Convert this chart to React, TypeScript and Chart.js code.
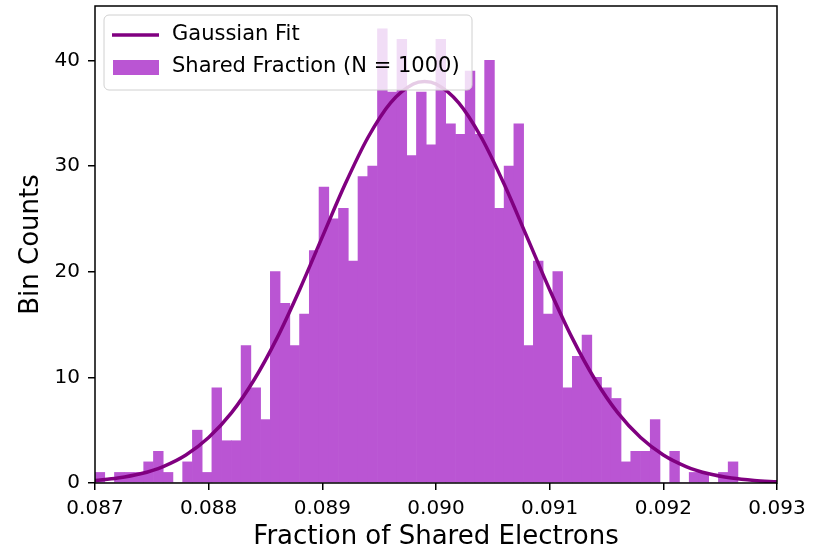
import React, { useEffect, useRef } from "react";
import { Chart, registerables } from "chart.js";

Chart.register(...registerables);

// Histogram binning of the shared-electron fraction (N = 1000 samples)
const BIN_START = 0.087;
const BIN_WIDTH = 0.0000857;
const BIN_COUNTS = [
  1, 0, 1, 1, 1, 2, 3, 1, 0, 2, 5, 1,
  9, 4, 4, 13, 9, 6, 20, 17, 13, 16, 22,
  28, 25, 26, 21, 29, 30, 43, 37, 42, 31, 37, 32,
  42, 34, 33, 39, 33, 40, 26, 30, 34, 13, 21, 16, 20,
  9, 12, 14, 10, 9, 8, 2, 3, 3, 6, 0, 3,
  0, 1, 1, 0, 1, 2,
];

// Gaussian fit curve, sampled along the x range
const FIT_X = [
  0.087, 0.0872, 0.0874, 0.0876, 0.0878, 0.088, 0.0882, 0.0884, 0.0886, 0.0888,
  0.089, 0.0892, 0.0894, 0.0896, 0.0898, 0.0899, 0.09, 0.0902, 0.0904, 0.0906,
  0.0908, 0.091, 0.0912, 0.0914, 0.0916, 0.0918, 0.092, 0.0922, 0.0924, 0.0926,
  0.0928, 0.093,
];
const FIT_Y = [
  0.24, 0.47, 0.87, 1.56, 2.65, 4.3, 6.63, 9.77, 13.69, 18.3,
  23.3, 28.27, 32.68, 35.99, 37.77, 38.0, 37.77, 35.99, 32.68, 28.27,
  23.3, 18.3, 13.69, 9.77, 6.63, 4.3, 2.65, 1.56, 0.87, 0.47,
  0.24, 0.11,
];

const X_TICKS = [0.087, 0.088, 0.089, 0.09, 0.091, 0.092, 0.093];
const Y_TICKS = [0, 10, 20, 30, 40];

const FIT_LABEL = "Gaussian Fit";
const HIST_LABEL = "Shared Fraction (N = 1000)";

const BAR_COLOR = "#BA55D3";
const LINE_COLOR = "#800080";
const FONT = "DejaVu Sans";

// Legend box drawn inside the plot, upper left
const insideLegend = {
  id: "insideLegend",
  afterDatasetsDraw(chart: any) {
    const { ctx, chartArea } = chart;
    const x = chartArea.left + 9;
    const y = chartArea.top + 9;
    const w = 368;
    const h = 75;
    const r = 5;
    ctx.save();
    ctx.beginPath();
    ctx.moveTo(x + r, y);
    ctx.lineTo(x + w - r, y);
    ctx.arcTo(x + w, y, x + w, y + r, r);
    ctx.lineTo(x + w, y + h - r);
    ctx.arcTo(x + w, y + h, x + w - r, y + h, r);
    ctx.lineTo(x + r, y + h);
    ctx.arcTo(x, y + h, x, y + h - r, r);
    ctx.lineTo(x, y + r);
    ctx.arcTo(x, y, x + r, y, r);
    ctx.closePath();
    ctx.fillStyle = "rgba(255,255,255,0.8)";
    ctx.fill();
    ctx.strokeStyle = "#d0d0d0";
    ctx.lineWidth = 1;
    ctx.stroke();

    // line handle
    ctx.beginPath();
    ctx.moveTo(x + 8, y + 20);
    ctx.lineTo(x + 55, y + 20);
    ctx.strokeStyle = LINE_COLOR;
    ctx.lineWidth = 3.5;
    ctx.stroke();

    // patch handle
    ctx.fillStyle = BAR_COLOR;
    ctx.fillRect(x + 9, y + 45, 46, 15);

    ctx.fillStyle = "#000";
    ctx.font = `21px "${FONT}"`;
    ctx.textBaseline = "middle";
    ctx.textAlign = "left";
    ctx.fillText(FIT_LABEL, x + 68, y + 20);
    ctx.fillText(HIST_LABEL, x + 68, y + 52);
    ctx.restore();
  },
};

// Full axes frame on all four sides
const axesFrame = {
  id: "axesFrame",
  afterDraw(chart: any) {
    const { ctx, chartArea } = chart;
    ctx.save();
    ctx.strokeStyle = "#000";
    ctx.lineWidth = 1.5;
    ctx.strokeRect(
      chartArea.left,
      chartArea.top,
      chartArea.right - chartArea.left,
      chartArea.bottom - chartArea.top
    );
    ctx.restore();
  },
};

export default function App() {
  const canvasRef = useRef<HTMLCanvasElement | null>(null);

  useEffect(() => {
    if (!canvasRef.current) return;
    const histData = BIN_COUNTS.map((c, i) => ({
      x: BIN_START + (i + 0.5) * BIN_WIDTH,
      y: c,
    }));
    const fitData = FIT_X.map((x, i) => ({ x, y: FIT_Y[i] }));

    const chart = new Chart(canvasRef.current, {
      type: "bar",
      data: {
        datasets: [
          {
            type: "line",
            label: FIT_LABEL,
            data: fitData,
            borderColor: LINE_COLOR,
            borderWidth: 3.5,
            pointRadius: 0,
            cubicInterpolationMode: "monotone",
            fill: false,
            order: 0,
          } as any,
          {
            type: "bar",
            label: HIST_LABEL,
            data: histData,
            backgroundColor: BAR_COLOR,
            borderWidth: 0,
            barPercentage: 1,
            categoryPercentage: 1,
            order: 1,
          } as any,
        ],
      },
      options: {
        responsive: false,
        animation: false,
        devicePixelRatio: 1,
        layout: { padding: { left: 0, top: 6, right: 43, bottom: 0 } },
        plugins: {
          legend: { display: false },
          tooltip: { enabled: false },
        },
        scales: {
          x: {
            type: "linear",
            min: 0.087,
            max: 0.093,
            offset: false,
            afterBuildTicks: (scale: any) => {
              scale.ticks = X_TICKS.map((v) => ({ value: v }));
            },
            afterFit: (scale: any) => {
              scale.height = 67;
              scale.paddingLeft = 0;
              scale.paddingRight = 0;
            },
            grid: {
              display: true,
              drawOnChartArea: false,
              drawTicks: true,
              tickLength: 7,
              color: "#000",
              lineWidth: 1.5,
              offset: false,
            },
            border: { display: false },
            ticks: {
              autoSkip: false,
              maxRotation: 0,
              padding: 7,
              color: "#000",
              font: { family: FONT, size: 20 },
              callback: (v: any) => Number(v).toFixed(3),
            },
            title: {
              display: true,
              text: "Fraction of Shared Electrons",
              color: "#000",
              font: { family: FONT, size: 26, lineHeight: 1 },
              padding: { top: 1, bottom: 0 },
            },
          },
          y: {
            type: "linear",
            min: 0,
            max: 45.15,
            afterBuildTicks: (scale: any) => {
              scale.ticks = Y_TICKS.map((v) => ({ value: v }));
            },
            afterFit: (scale: any) => {
              scale.width = 95;
              scale.paddingTop = 0;
              scale.paddingBottom = 0;
            },
            grid: {
              display: true,
              drawOnChartArea: false,
              drawTicks: true,
              tickLength: 7,
              color: "#000",
              lineWidth: 1.5,
            },
            border: { display: false },
            ticks: {
              padding: 8,
              color: "#000",
              font: { family: FONT, size: 20 },
              callback: (v: any) => String(v),
            },
            title: {
              display: true,
              text: "Bin Counts",
              color: "#000",
              font: { family: FONT, size: 26, lineHeight: 1 },
              padding: { top: 18, bottom: 0 },
            },
          },
        },
      },
      plugins: [insideLegend, axesFrame],
    });

    return () => chart.destroy();
  }, []);

  return (
    <div style={{ position: "absolute", left: 0, top: 0, width: 820, height: 550, background: "#fff" }}>
      <canvas ref={canvasRef} width={820} height={550} />
    </div>
  );
}
